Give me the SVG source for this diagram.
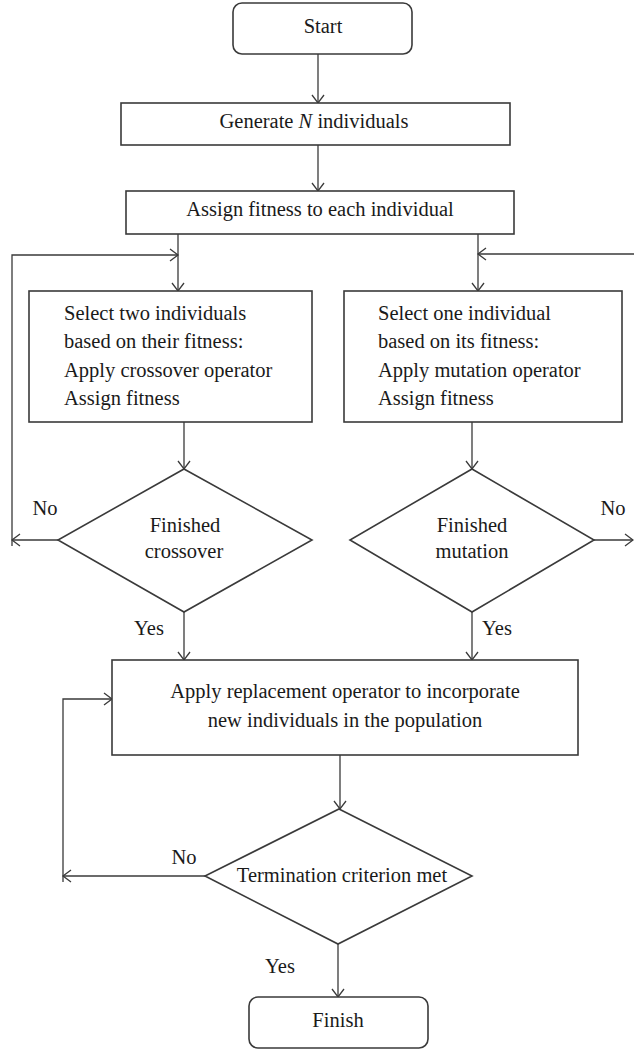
<svg xmlns="http://www.w3.org/2000/svg" width="634" height="1051" viewBox="0 0 634 1051">
<style>
.box{fill:#fff;stroke:#3a3a3a;stroke-width:1.6}
.ln{fill:none;stroke:#3a3a3a;stroke-width:1.3}
text{font-family:"Liberation Serif","Times New Roman",serif;font-size:20.5px;fill:#1a1a1a}
.c{text-anchor:middle}
</style>
<defs>
<marker id="arr" markerUnits="userSpaceOnUse" markerWidth="12" markerHeight="16" viewBox="-10 -8 12 16" refX="0" refY="0" orient="auto">
<path d="M-8,-6 L0,0 L-8,6" fill="none" stroke="#3a3a3a" stroke-width="1.3"/>
</marker>
</defs>
<rect width="634" height="1051" fill="#fff"/>
<g id="connectors">
<path class="ln" d="M318,54 V103" marker-end="url(#arr)"/>
<path class="ln" d="M318,145 V191" marker-end="url(#arr)"/>
<path class="ln" d="M178,234 V291" marker-end="url(#arr)"/>
<path class="ln" d="M478,234 V291" marker-end="url(#arr)"/>
<path class="ln" d="M184,422 V469" marker-end="url(#arr)"/>
<path class="ln" d="M472,422 V469" marker-end="url(#arr)"/>
<path class="ln" d="M58,540 H12" marker-end="url(#arr)"/>
<path class="ln" d="M12,546 V255 H178" marker-end="url(#arr)"/>
<path class="ln" d="M594,540 H633" marker-end="url(#arr)"/>
<path class="ln" d="M634,254 H478" marker-end="url(#arr)"/>
<path class="ln" d="M184,612 V660" marker-end="url(#arr)"/>
<path class="ln" d="M472,612 V660" marker-end="url(#arr)"/>
<path class="ln" d="M340,755 V809" marker-end="url(#arr)"/>
<path class="ln" d="M205,876 H63" marker-end="url(#arr)"/>
<path class="ln" d="M63,882 V699 H112" marker-end="url(#arr)"/>
<path class="ln" d="M338,944 V997" marker-end="url(#arr)"/>
<text class="c" x="45" y="515">No</text>
<text class="c" x="613" y="515">No</text>
<text class="c" x="149" y="635">Yes</text>
<text class="c" x="497" y="635">Yes</text>
<text class="c" x="184" y="864">No</text>
<text class="c" x="280" y="973">Yes</text>
</g>
<g id="start">
<rect class="box" x="233" y="3" width="179" height="51" rx="9"/>
<text class="c" x="323" y="33">Start</text>
</g>
<g id="generate">
<rect class="box" x="121" y="103" width="389" height="42"/>
<text class="c" x="314" y="128">Generate <tspan font-style="italic">N</tspan> individuals</text>
</g>
<g id="assign">
<rect class="box" x="126" y="191" width="388" height="43"/>
<text class="c" x="320" y="216">Assign fitness to each individual</text>
</g>
<g id="crossover-box">
<rect class="box" x="29" y="291" width="283" height="131"/>
<text x="64" y="320">Select two individuals</text>
<text x="64" y="348">based on their fitness:</text>
<text x="64" y="377">Apply crossover operator</text>
<text x="64" y="405">Assign fitness</text>
</g>
<g id="mutation-box">
<rect class="box" x="344" y="291" width="278" height="131"/>
<text x="378" y="320">Select one individual</text>
<text x="378" y="348">based on its fitness:</text>
<text x="378" y="377">Apply mutation operator</text>
<text x="378" y="405">Assign fitness</text>
</g>
<g id="finished-crossover">
<polygon class="box" points="184,469 312,540 184,612 58,540"/>
<text class="c" x="185" y="532">Finished</text>
<text class="c" x="184" y="558">crossover</text>
</g>
<g id="finished-mutation">
<polygon class="box" points="472,469 594,540 472,612 350,540"/>
<text class="c" x="472" y="532">Finished</text>
<text class="c" x="472" y="558">mutation</text>
</g>
<g id="replacement">
<rect class="box" x="112" y="660" width="466" height="95"/>
<text class="c" x="345" y="698">Apply replacement operator to incorporate</text>
<text class="c" x="345" y="727">new individuals in the population</text>
</g>
<g id="termination">
<polygon class="box" points="339,809 472,876 338,944 205,876"/>
<text class="c" x="342" y="882">Termination criterion met</text>
</g>
<g id="finish">
<rect class="box" x="249" y="997" width="179" height="51" rx="9"/>
<text class="c" x="338" y="1027">Finish</text>
</g>
</svg>
